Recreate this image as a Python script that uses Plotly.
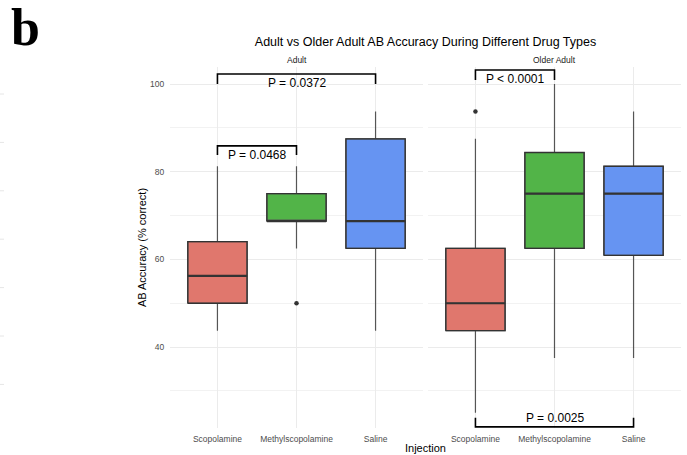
import plotly.graph_objects as go

# ---- data -------------------------------------------------------------
drugs = ["Scopolamine", "Methylscopolamine", "Saline"]
groups = ["Adult", "Older Adult"]
drug_colors = ["#E0776D", "#52B448", "#6694F2"]

# five-number summaries per group, one value per drug
adult_lower = [43.75, 62.5, 43.75]
adult_q1 = [50.0, 68.75, 62.5]
adult_median = [56.25, 68.75, 68.75]
adult_q3 = [64.06, 75.0, 87.5]
adult_upper = [81.25, 81.25, 93.75]
adult_outliers = [[], [50.0], []]

older_lower = [25.0, 37.5, 37.5]
older_q1 = [43.75, 62.5, 60.94]
older_median = [50.0, 75.0, 75.0]
older_q3 = [62.5, 84.38, 81.25]
older_upper = [87.5, 100.0, 93.75]
older_outliers = [[93.75], [], []]

# pairwise comparisons: group, drug a, drug b, p-value label
comp_group = ["Adult", "Adult", "Older Adult", "Older Adult"]
comp_a = ["Scopolamine", "Scopolamine", "Scopolamine", "Scopolamine"]
comp_b = ["Saline", "Methylscopolamine", "Methylscopolamine", "Saline"]
comp_label = ["P = 0.0372", "P = 0.0468", "P < 0.0001", "P = 0.0025"]
# bracket bar height and tip height on the accuracy scale
comp_bar = [102.3, 85.9, 103.2, 21.8]
comp_tip = [100.0, 83.8, 100.9, 23.9]

y_ticks = [40, 60, 80, 100]

# ---- styling ----------------------------------------------------------
FONT = "Liberation Sans, Arial, sans-serif"
BOX_W = 0.75
EDGE = "#333333"
WHISKER = "#555555"
GRID = "#EBEBEB"

summaries = {
    "Adult": (adult_lower, adult_q1, adult_median, adult_q3, adult_upper, adult_outliers),
    "Older Adult": (older_lower, older_q1, older_median, older_q3, older_upper, older_outliers),
}
axis_ids = {"Adult": ("x", "y"), "Older Adult": ("x2", "y2")}

fig = go.Figure()
for g in groups:
    lo, q1, med, q3, hi, outs = summaries[g]
    xa, ya = axis_ids[g]
    for i, d in enumerate(drugs):
        pos = i + 1
        fig.add_trace(go.Box(
            x=[pos], q1=[q1[i]], median=[med[i]], q3=[q3[i]],
            lowerfence=[lo[i]], upperfence=[hi[i]],
            width=BOX_W, whiskerwidth=0, boxpoints=False,
            fillcolor=drug_colors[i], line=dict(color=WHISKER, width=1.2),
            xaxis=xa, yaxis=ya, showlegend=False, hoverinfo="skip",
        ))
        # box outline and heavier median bar drawn on top
        fig.add_trace(go.Scatter(
            x=[pos - BOX_W / 2, pos + BOX_W / 2, pos + BOX_W / 2,
               pos - BOX_W / 2, pos - BOX_W / 2],
            y=[q1[i], q1[i], q3[i], q3[i], q1[i]],
            mode="lines", line=dict(color=EDGE, width=1.3),
            xaxis=xa, yaxis=ya, showlegend=False, hoverinfo="skip",
        ))
        fig.add_trace(go.Scatter(
            x=[pos - BOX_W / 2, pos + BOX_W / 2], y=[med[i], med[i]],
            mode="lines", line=dict(color=EDGE, width=2.2),
            xaxis=xa, yaxis=ya, showlegend=False, hoverinfo="skip",
        ))
        if outs[i]:
            fig.add_trace(go.Scatter(
                x=[pos] * len(outs[i]), y=outs[i], mode="markers",
                marker=dict(color=EDGE, size=4.5),
                xaxis=xa, yaxis=ya, showlegend=False, hoverinfo="skip",
            ))

# significance brackets
for g, a, b, lab, bar, tip in zip(comp_group, comp_a, comp_b, comp_label, comp_bar, comp_tip):
    xa, ya = axis_ids[g]
    xa_pos = drugs.index(a) + 1
    xb_pos = drugs.index(b) + 1
    fig.add_shape(
        type="path",
        path=f"M {xa_pos},{tip} L {xa_pos},{bar} L {xb_pos},{bar} L {xb_pos},{tip}",
        xref=xa, yref=ya, line=dict(color="black", width=1.6),
    )
    below = tip < bar
    fig.add_annotation(
        x=(xa_pos + xb_pos) / 2, y=bar, xref=xa, yref=ya,
        text=lab, showarrow=False,
        yanchor="top" if below else "bottom",
        font=dict(family=FONT, size=12, color="black"),
    )

left_dom = [170 / 687, 423 / 687]
right_dom = [428 / 687, 681 / 687]
y_dom = [1 - 428 / 455, 1 - 67 / 455]
y_range = [21.55, 103.88]

xcommon = dict(
    range=[0.4, 3.6], tickmode="array", tickvals=[1, 2, 3], ticktext=drugs,
    showgrid=True, gridcolor=GRID, gridwidth=1, zeroline=False, showline=False,
    ticks="outside", ticklen=3, tickcolor="rgba(0,0,0,0)",
    tickfont=dict(family=FONT, size=8.5, color="#4D4D4D"),
)
ycommon = dict(
    range=y_range, domain=y_dom, tickmode="array", tickvals=y_ticks,
    showgrid=True, gridcolor=GRID, gridwidth=1, zeroline=False, showline=False,
    minor=dict(tickmode="array", tickvals=[30, 50, 70, 90], showgrid=True,
               gridcolor="#F2F2F2", gridwidth=0.6),
    ticks="outside", ticklen=3, tickcolor="rgba(0,0,0,0)",
    tickfont=dict(family=FONT, size=8.5, color="#4D4D4D"),
)

fig.update_layout(
    width=687, height=455,
    margin=dict(l=0, r=0, t=0, b=0),
    paper_bgcolor="white", plot_bgcolor="white",
    boxmode="overlay",
    font=dict(family=FONT),
    xaxis=dict(domain=left_dom, anchor="y", **xcommon),
    xaxis2=dict(domain=right_dom, anchor="y2", **xcommon),
    yaxis=dict(anchor="x", title=dict(text="AB Accuracy (% correct)", standoff=1,
                                       font=dict(family=FONT, size=11, color="black")),
               **ycommon),
    yaxis2=dict(anchor="x2", matches="y", showticklabels=False, **ycommon),
    title=dict(text="Adult vs Older Adult AB Accuracy During Different Drug Types",
               x=425.5 / 687, y=1 - 42 / 455, xanchor="center", yanchor="middle",
               font=dict(family=FONT, size=12.5, color="black")),
)

# facet strip labels
for g, dom in zip(groups, [left_dom, right_dom]):
    fig.add_annotation(
        x=(dom[0] + dom[1]) / 2, y=1 - 60 / 455, xref="paper", yref="paper",
        text=g, showarrow=False, xanchor="center", yanchor="middle",
        font=dict(family=FONT, size=8.5, color="#1A1A1A"),
    )

# shared x-axis title
fig.add_annotation(
    x=425.5 / 687, y=1 - 448 / 455, xref="paper", yref="paper",
    text="Injection", showarrow=False, xanchor="center", yanchor="middle",
    font=dict(family=FONT, size=11, color="black"),
)

# panel letter
fig.add_annotation(
    x=9 / 687, y=1 + 3 / 455, xref="paper", yref="paper",
    text="<b>b</b>", showarrow=False, xanchor="left", yanchor="top",
    font=dict(family="Liberation Serif, Times New Roman, serif", size=52, color="black"),
)

# faint edge ticks along the left margin
for k in range(7):
    yy = 1 - (94 + 48.4 * k) / 455
    fig.add_shape(type="line", xref="paper", yref="paper",
                  x0=0, x1=4 / 687, y0=yy, y1=yy,
                  line=dict(color="#E6E6E6", width=1))

fig.write_html("out.html")
